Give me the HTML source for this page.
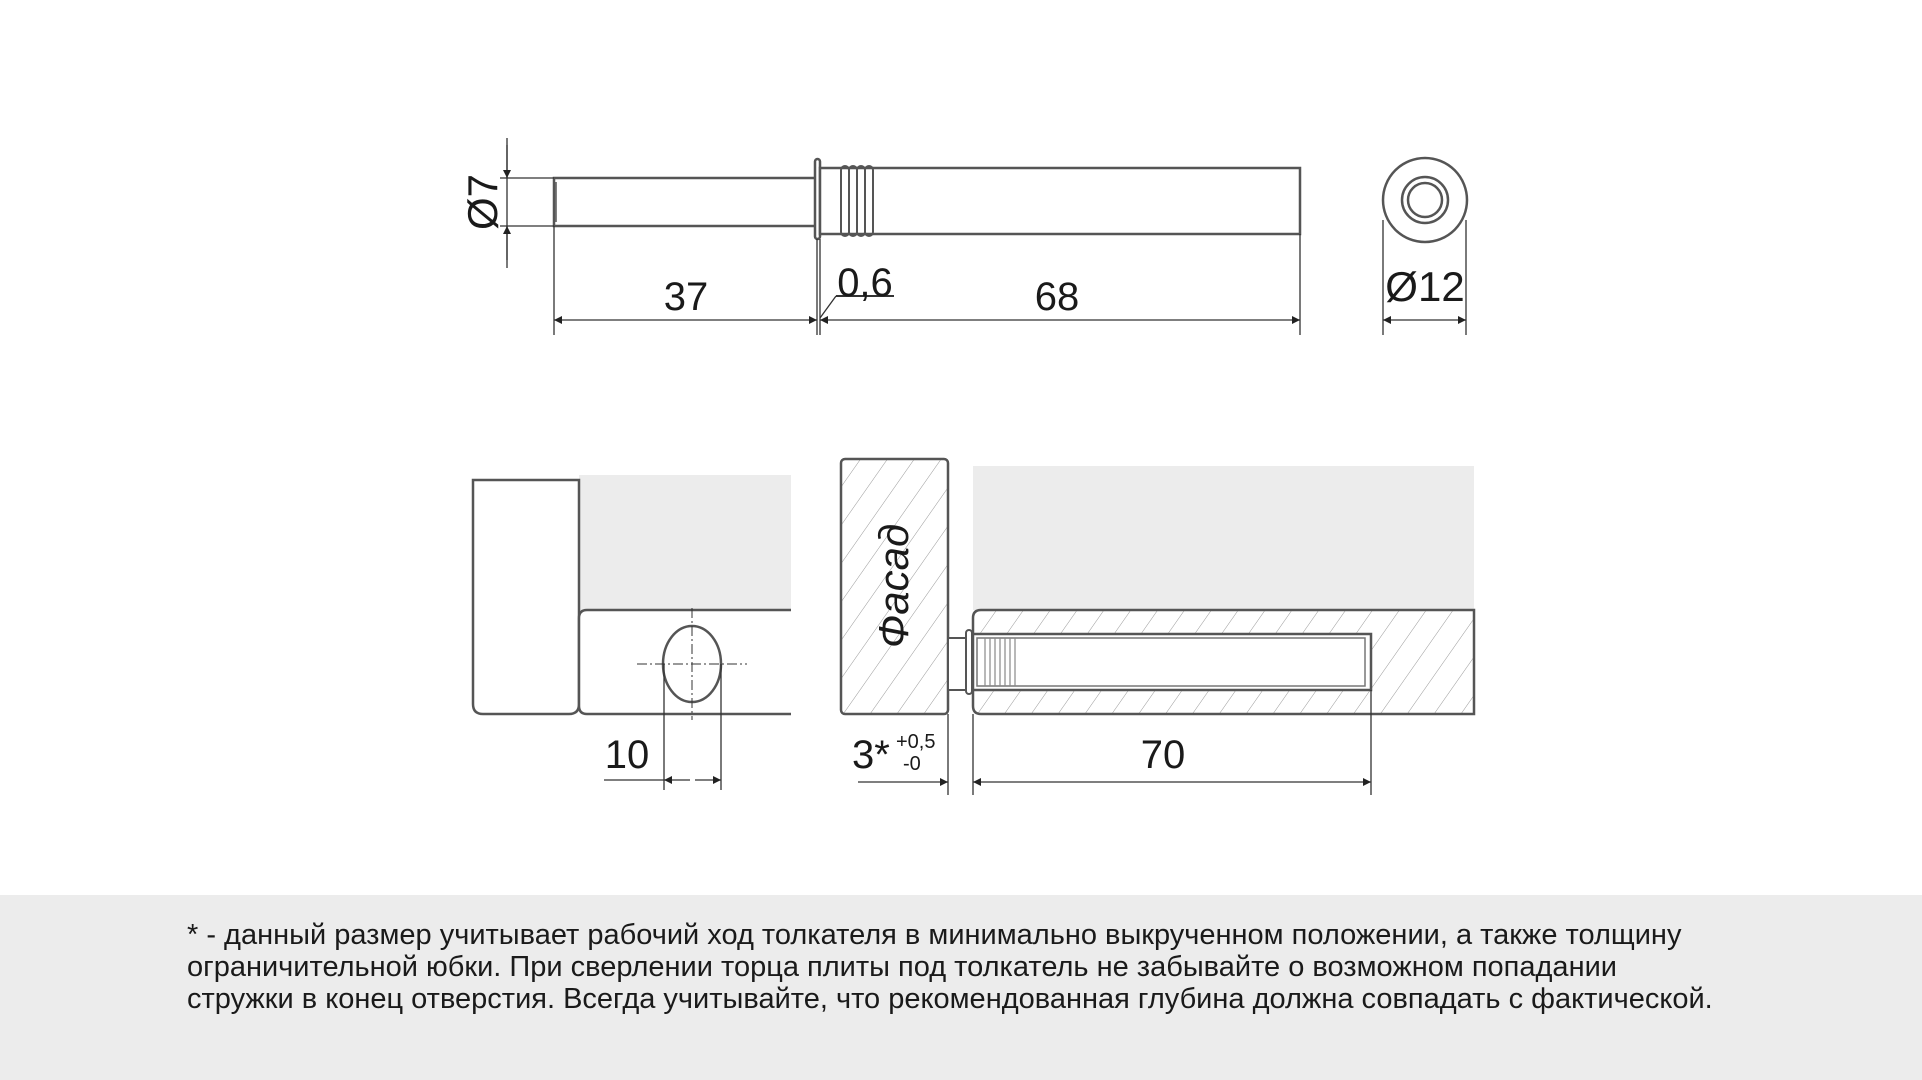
<!DOCTYPE html>
<html><head><meta charset="utf-8"><style>
html,body{margin:0;padding:0;background:#fff;width:1922px;height:1080px;overflow:hidden}
svg{display:block}
text{font-family:"Liberation Sans",sans-serif;fill:#1a1a1a}
</style></head><body>
<svg width="1922" height="1080" viewBox="0 0 1922 1080" xmlns="http://www.w3.org/2000/svg">
<defs>
<pattern id="h" patternUnits="userSpaceOnUse" width="22" height="22" patternTransform="rotate(35)">
<line x1="0" y1="0" x2="0" y2="22" stroke="#999" stroke-width="1"/>
</pattern>
<marker id="a" viewBox="0 0 10 10" refX="10" refY="5" markerWidth="14" markerHeight="8" orient="auto-start-reverse" markerUnits="userSpaceOnUse">
<path d="M0,0 L10,5 L0,10 z" fill="#222"/>
</marker>
</defs>
<g fill="none" stroke="#555" stroke-width="2.5">
<rect x="554" y="178" width="263" height="48" fill="#fff"/>
<line x1="556" y1="182" x2="556" y2="222" stroke-width="1.5"/>
<rect x="815" y="159" width="5" height="80" rx="2.5" fill="#fff"/>
<rect x="820" y="168" width="480" height="66" fill="#fff"/>
<g stroke-width="2">
<rect x="841" y="166" width="8" height="70" rx="4"/>
<rect x="849" y="166" width="8" height="70" rx="4"/>
<rect x="857" y="166" width="8" height="70" rx="4"/>
<rect x="865" y="166" width="8" height="70" rx="4"/>
</g>
<circle cx="1425" cy="200" r="42"/>
<circle cx="1425" cy="200" r="23"/>
<circle cx="1425" cy="200" r="17"/>
</g>
<g stroke="#333" stroke-width="1.3" fill="none">
<line x1="507" y1="138" x2="507" y2="268"/>
<line x1="500" y1="178" x2="554" y2="178"/><line x1="500" y1="226" x2="554" y2="226"/>
<line x1="507" y1="145" x2="507" y2="178" marker-end="url(#a)"/>
<line x1="507" y1="260" x2="507" y2="226" marker-end="url(#a)"/>
<line x1="554" y1="226" x2="554" y2="335"/>
<line x1="817" y1="239" x2="817" y2="335"/>
<line x1="820" y1="239" x2="820" y2="335"/>
<line x1="1300" y1="234" x2="1300" y2="335"/>
<line x1="554" y1="320" x2="817" y2="320" marker-start="url(#a)" marker-end="url(#a)"/>
<line x1="820" y1="320" x2="1300" y2="320" marker-start="url(#a)" marker-end="url(#a)"/>
<line x1="820" y1="318" x2="836" y2="296"/><line x1="836" y1="296" x2="894" y2="296" stroke-width="2"/>
<line x1="1383" y1="220" x2="1383" y2="335"/><line x1="1466" y1="220" x2="1466" y2="335"/>
<line x1="1383" y1="320" x2="1466" y2="320" marker-start="url(#a)" marker-end="url(#a)"/>
</g>
<text x="0" y="0" font-size="42" transform="translate(497,202) rotate(-90)" text-anchor="middle">Ø7</text>
<text x="686" y="310" font-size="40" text-anchor="middle">37</text>
<text x="865" y="296" font-size="40" text-anchor="middle">0,6</text>
<text x="1057" y="310" font-size="40" text-anchor="middle">68</text>
<text x="1425" y="301" font-size="42" text-anchor="middle">Ø12</text>

<rect x="579" y="475" width="212" height="135" fill="#ececec"/>
<rect x="973" y="466" width="501" height="144" fill="#ececec"/>
<g fill="#fff" stroke="#555" stroke-width="2.5">
<path d="M473 480 H579 V704 Q579 714 569 714 H483 Q473 714 473 704 Z"/>
<path d="M791 610 H587 Q579 610 579 618 V706 Q579 714 587 714 H791"/>
<ellipse cx="692" cy="664" rx="29" ry="38"/>
</g>
<g stroke="#333" stroke-width="1" stroke-dasharray="10,3,2,3" fill="none">
<line x1="692" y1="608" x2="692" y2="720"/><line x1="637" y1="664" x2="747" y2="664"/>
</g>
<rect x="841" y="459" width="107" height="255" rx="4" fill="url(#h)" stroke="#555" stroke-width="2.5"/>
<text transform="translate(908,586) rotate(-90)" font-size="42" font-style="italic" text-anchor="middle">Фасад</text>
<rect x="948" y="638" width="21" height="52" fill="#fff" stroke="#555" stroke-width="2"/>
<path d="M1474 610 H981 Q973 610 973 618 V706 Q973 714 981 714 H1474 Z" fill="url(#h)" stroke="#555" stroke-width="2.5"/>
<rect x="973" y="634" width="398" height="56" fill="#fff" stroke="#555" stroke-width="2.5"/>
<rect x="977" y="638" width="388" height="48" fill="#fff" stroke="#777" stroke-width="1.5"/>
<rect x="966" y="630" width="6" height="64" rx="3" fill="#fff" stroke="#555" stroke-width="2"/>
<g stroke="#888" stroke-width="1.2"><line x1="985" y1="638" x2="985" y2="686"/><line x1="990" y1="638" x2="990" y2="686"/><line x1="995" y1="638" x2="995" y2="686"/><line x1="1000" y1="638" x2="1000" y2="686"/><line x1="1005" y1="638" x2="1005" y2="686"/><line x1="1010" y1="638" x2="1010" y2="686"/><line x1="1015" y1="638" x2="1015" y2="686"/></g>
<g stroke="#333" stroke-width="1.3" fill="none">
<line x1="664" y1="664" x2="664" y2="790"/><line x1="721" y1="664" x2="721" y2="790"/>
<line x1="604" y1="780" x2="664" y2="780"/>
<line x1="690" y1="780" x2="664" y2="780" marker-end="url(#a)"/>
<line x1="695" y1="780" x2="721" y2="780" marker-end="url(#a)"/>
<line x1="948" y1="714" x2="948" y2="795"/><line x1="973" y1="714" x2="973" y2="795"/>
<line x1="858" y1="782" x2="948" y2="782" marker-end="url(#a)"/>
<line x1="973" y1="782" x2="1371" y2="782" marker-start="url(#a)" marker-end="url(#a)"/>
<line x1="1371" y1="690" x2="1371" y2="795"/>
</g>
<text x="627" y="768" font-size="40" text-anchor="middle">10</text>
<text x="852" y="768" font-size="40">3*</text>
<text x="896" y="748" font-size="20">+0,5</text>
<text x="903" y="770" font-size="20">-0</text>
<text x="1163" y="768" font-size="40" text-anchor="middle">70</text>
<rect x="0" y="895" width="1922" height="185" fill="#ececec"/>
<g font-size="29" fill="#1a1a1a">
<text x="187" y="944">* - данный размер учитывает рабочий ход толкателя в минимально выкрученном положении, а также толщину</text>
<text x="187" y="976">ограничительной юбки. При сверлении торца плиты под толкатель не забывайте о возможном попадании</text>
<text x="187" y="1008">стружки в конец отверстия. Всегда учитывайте, что рекомендованная глубина должна совпадать с фактической.</text>
</g>
</svg>
</body></html>
